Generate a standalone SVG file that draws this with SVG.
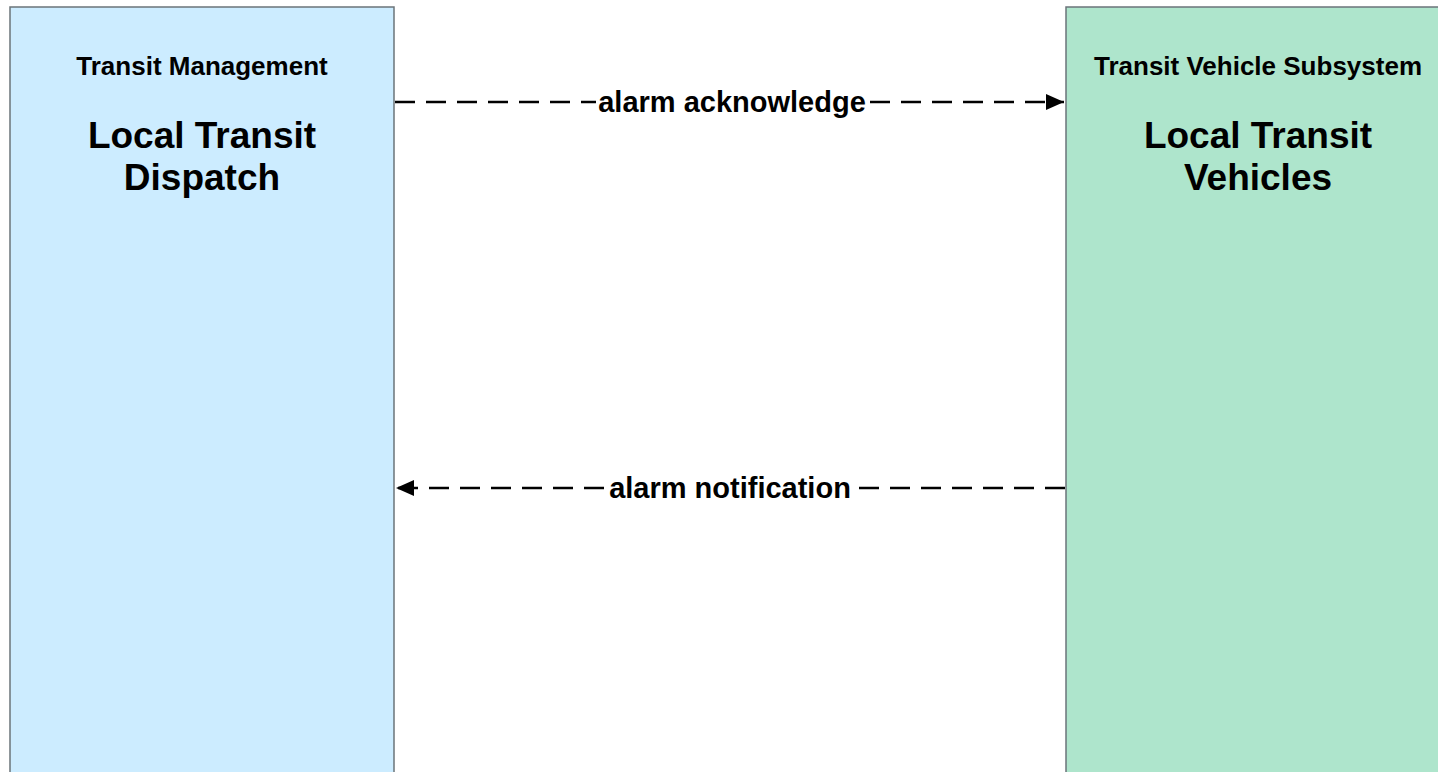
<svg xmlns="http://www.w3.org/2000/svg" width="1438" height="772" viewBox="0 0 1438 772">
<style>
.box{stroke:#6b7479;stroke-width:1.5}
.t{font-family:"Liberation Sans",Arial,sans-serif;font-weight:bold;fill:#000;text-anchor:middle}
.sub{font-size:26px}
.name{font-size:37px}
.lbl{font-size:29px}
.flow{stroke:#000;stroke-width:2.5;fill:none;stroke-dasharray:20 11}
</style>
<defs>
<marker id="ah" viewBox="0 0 18 16" refX="18" refY="8" markerWidth="18" markerHeight="16" markerUnits="userSpaceOnUse" orient="auto">
<path d="M0,0 L18,8 L0,16 Z" fill="#000"/>
</marker>
</defs>
<rect width="1438" height="772" fill="#fff"/>
<g id="node-dispatch">
<rect class="box" x="10" y="7" width="384" height="780" fill="#CCECFF"/>
<text class="t sub" x="202" y="75">Transit Management</text>
<text class="t name" x="202" y="148">Local Transit</text>
<text class="t name" x="202" y="190">Dispatch</text>
</g>
<g id="node-vehicles">
<rect class="box" x="1066" y="7" width="384" height="780" fill="#AEE5CC"/>
<text class="t sub" x="1258" y="75">Transit Vehicle Subsystem</text>
<text class="t name" x="1258" y="148">Local Transit</text>
<text class="t name" x="1258" y="190">Vehicles</text>
</g>
<g id="connectors">
<g id="flow-ack">
<path class="flow" d="M395,102 H596"/>
<path class="flow" d="M870,102 H1064" marker-end="url(#ah)"/>
<text class="t lbl" x="732" y="112">alarm acknowledge</text>
</g>
<g id="flow-notif">
<path class="flow" d="M1065,488 H856"/>
<path class="flow" d="M604,488 H396" marker-end="url(#ah)"/>
<text class="t lbl" x="730" y="498">alarm notification</text>
</g>
</g>
</svg>
